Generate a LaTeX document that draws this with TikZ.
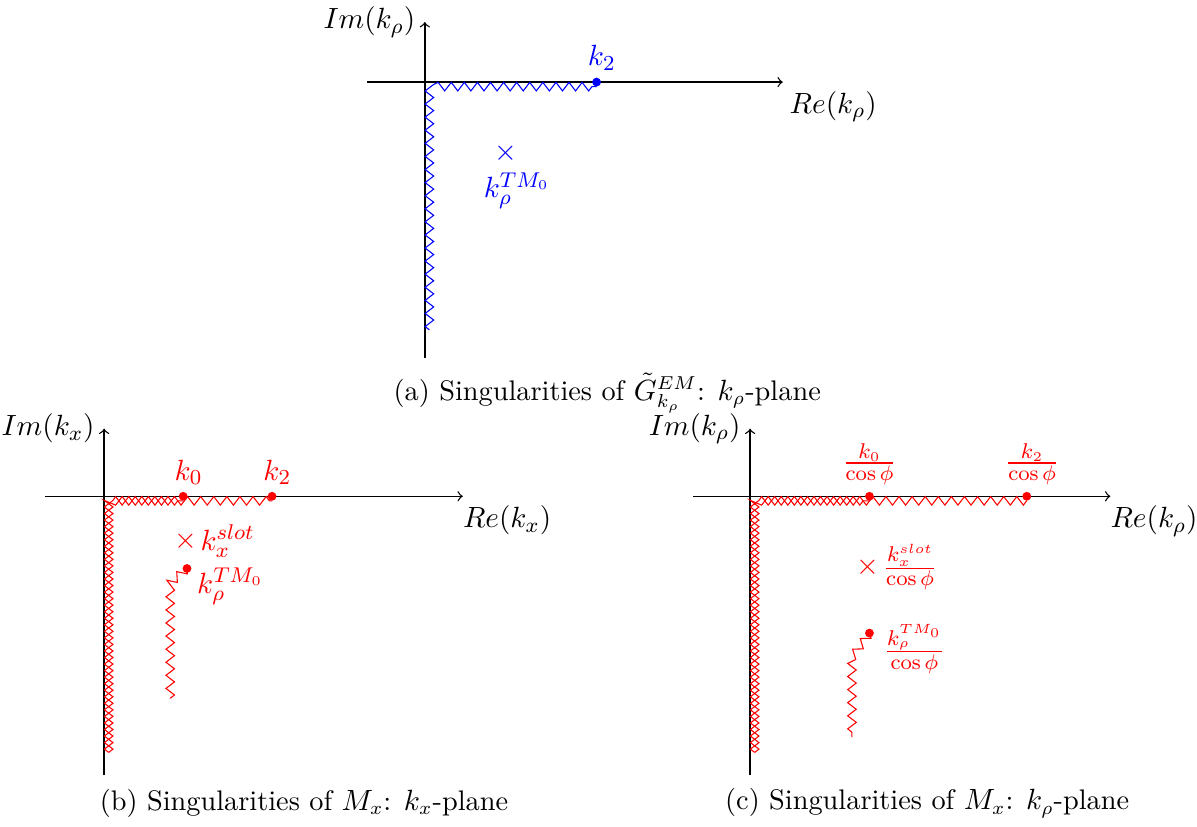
\documentclass[tikz,border=0pt]{standalone}
\usepackage{amsmath,amssymb}
\usetikzlibrary{decorations.pathmorphing,positioning}

\tikzset{
  cut/.style={decorate,decoration={zigzag,segment length=4.9pt,amplitude=1.6pt}},
  cutm/.style={decorate,decoration={zigzag,segment length=4.9pt,amplitude=1.6pt,mirror}},
  pole/.style={circle,fill,inner sep=0pt,minimum size=3.3pt},
  axis/.style={->,line width=0.5pt},
  lab/.style={font=\fontsize{11}{13.5}\selectfont},
  caption/.style={font=\fontsize{10.6}{12.7}\selectfont},
}

\begin{document}
\begin{tikzpicture}[lab]
\useasboundingbox (0,0) rectangle (15.75,-10.88);

% (a) k_rho-plane, Green's function
\begin{scope}[shift={(5.59,-1.08)}]
  \draw[axis] (-0.76,0) -- (4.71,0) node[anchor=north west,xshift=-1pt] (rea) {$Re(k_\rho)$};
  \draw[axis] (0,-3.63) -- (0,0.79) node[left] (ima) {$Im(k_\rho)$};
  \coordinate (ca) at (0.06,-0.06); \coordinate (bota) at (0.06,-3.26);
  \node[pole,blue] (k2a) at (2.26,0) {};
  \node[blue,above=-1pt of k2a,xshift=2pt] (k2alab) {$k_2$};
  \draw[blue,cut] (bota) -- (ca) -- (k2a |- ca);
  \node[blue,inner sep=0pt] (tma) at (1.07,-0.93) {$\times$};
  \node[blue,below=0pt of tma,xshift=4pt] (tmalab) {$k_\rho^{TM_0}$};
\end{scope}
\node[caption] (capa) at (7.99,-5.17) {(a) Singularities of $\tilde{G}^{EM}_{k_\rho}$: $k_\rho$-plane};

% (b) k_x-plane
\begin{scope}[shift={(1.37,-6.53)}]
  \draw[axis] (-0.78,0) -- (4.72,0) node[anchor=north west,xshift=-3.5pt] (reb) {$Re(k_x)$};
  \draw[axis] (0,-3.67) -- (0,0.89) node[left] (imb) {$Im(k_x)$};
  \coordinate (cb) at (0.06,-0.06); \coordinate (botb) at (0.06,-3.37);
  \node[pole,red] (k0b) at (1.04,0) {};
  \node[pole,red] (k2b) at (2.21,0) {};
  \node[red,above=-1pt of k0b,xshift=2pt] (k0blab) {$k_0$};
  \node[red,above=-1pt of k2b,xshift=2pt] (k2blab) {$k_2$};
  \draw[red,cut] (botb) -- (cb) -- (k2b |- cb);
  \draw[red,cutm] (botb) -- (cb) -- (k0b |- cb);
  \node[red,inner sep=0pt] (slb) at (1.07,-0.59) {$\times$};
  \node[red,right=0pt of slb,inner sep=1pt] (slblab) {$k_x^{slot}$};
  \node[pole,red] (tmb) at (1.09,-0.95) {};
  \node[red,below right=-5pt and -1pt of tmb] (tmblab) {$k_\rho^{TM_0}$};
  \coordinate (tb1) at (0.87,-1.14); \coordinate (tb2) at (0.87,-2.66);
  \draw[red,cut] (tmb.center) -- (tb1) -- (tb2);
\end{scope}
\node[caption] (capb) at (4.00,-10.57) {(b) Singularities of $M_x$: $k_x$-plane};

% (c) k_rho-plane
\begin{scope}[shift={(9.87,-6.53)}]
  \draw[axis] (-0.75,0) -- (4.74,0) node[anchor=north west,xshift=-3.5pt] (rec) {$Re(k_\rho)$};
  \draw[axis] (0,-3.67) -- (0,0.89) node[left] (imc) {$Im(k_\rho)$};
  \coordinate (cc) at (0.06,-0.06); \coordinate (botc) at (0.06,-3.37);
  \node[pole,red] (k0c) at (1.57,0) {};
  \node[pole,red] (k2c) at (3.64,0) {};
  \node[red,above=-1pt of k0c] (k0clab) {$\frac{k_0}{\cos\phi}$};
  \node[red,above=-1pt of k2c,xshift=2pt] (k2clab) {$\frac{k_2}{\cos\phi}$};
  \draw[red,cut] (botc) -- (cc) -- (k2c |- cc);
  \draw[red,cutm] (botc) -- (cc) -- (k0c |- cc);
  \node[red,inner sep=0pt] (slc) at (1.55,-0.93) {$\times$};
  \node[red,right=0pt of slc,inner sep=1pt] (slclab) {$\frac{k_x^{slot}}{\cos\phi}$};
  \node[pole,red] (tmc) at (1.57,-1.80) {};
  \node[red,right=0pt of tmc,yshift=-6pt] (tmclab) {$\frac{k_\rho^{TM_0}}{\cos\phi}$};
  \coordinate (tc1) at (1.34,-2.12); \coordinate (tc2) at (1.34,-3.17);
  \draw[red,cut] (tmc.center) -- (tc1) -- (tc2);
\end{scope}
\node[caption] (capc) at (12.20,-10.57) {(c) Singularities of $M_x$: $k_\rho$-plane};
\end{tikzpicture}
\end{document}
